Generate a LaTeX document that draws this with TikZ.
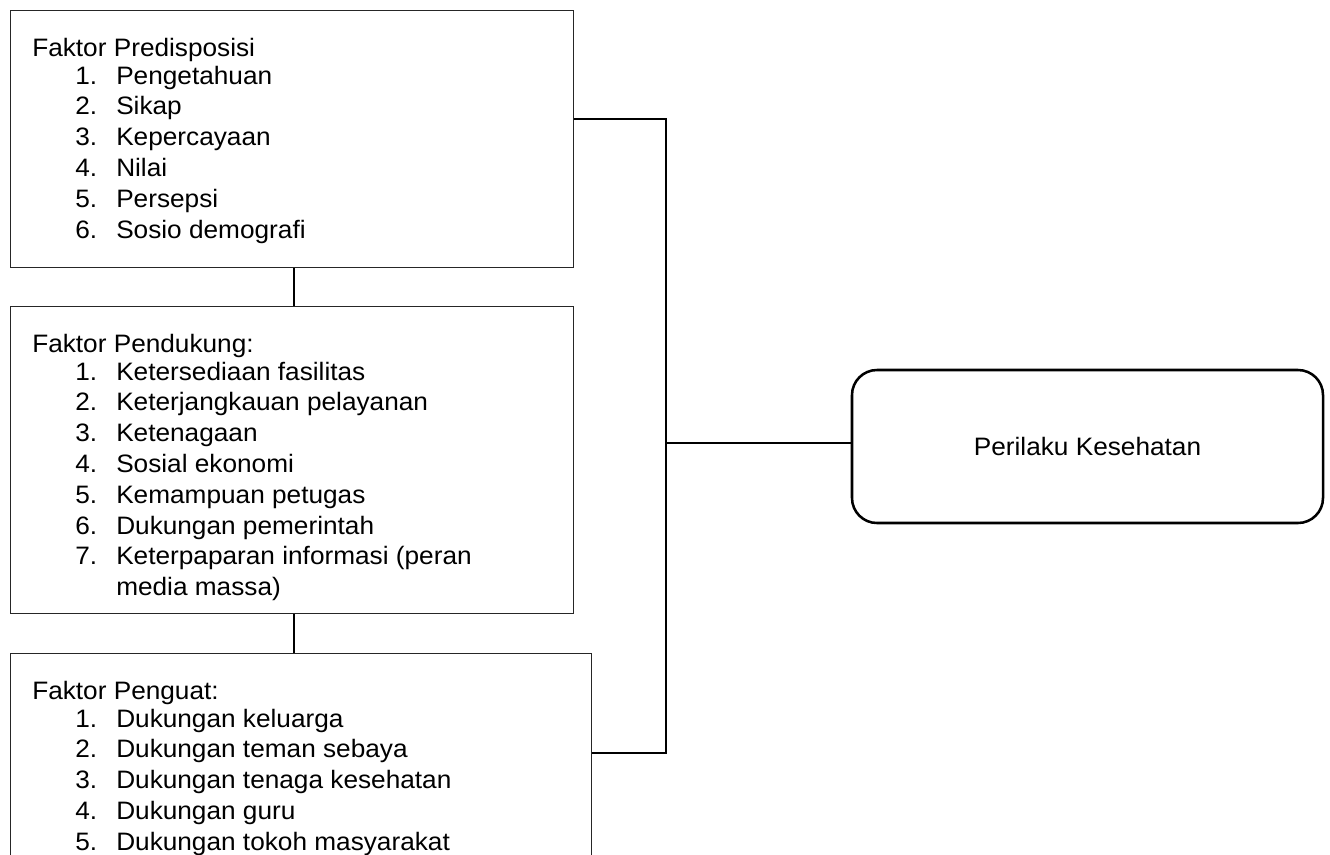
\documentclass[tikz,border=0pt]{standalone}
\usepackage{fontspec}
\setmainfont{Liberation Sans}[FakeStretch=1.04]
\newcommand\itm[2]{\hspace*{32.25pt}\makebox[30.75pt][l]{#1}#2}
\newcommand\itmc[1]{\hspace*{63pt}#1}
\begin{document}
\begin{tikzpicture}[x=0.75pt,y=-0.75pt,
  fbox/.style={draw=black!85, line width=0.9pt, inner sep=0pt, anchor=north west},
  txt/.style={anchor=base west, inner sep=0pt, font=\fontsize{18.9}{23.1}\selectfont},
  conn/.style={line width=2pt, draw=black},
  result/.style={draw=black, line width=1.9pt, rounded corners=18.75pt, inner sep=0pt,
    minimum width=353.25pt, minimum height=114.75pt,
    font=\fontsize{18.9}{23.1}\selectfont}]
\fill[white] (0,0) rectangle (1330,854);
\useasboundingbox (0,0) rectangle (1330,854);
\clip (0,0) rectangle (1330,854);

% boxes
\node[fbox, minimum width=422.25pt, minimum height=192.75pt] (b1) at (10,10) {};
\node[fbox, minimum width=422.25pt, minimum height=230.25pt] (b2) at (10,306) {};
\node[fbox, minimum width=435.75pt, minimum height=187.5pt] (b3) at (10,653) {};
\node[result] (pk) at (1087.5,446.5) {Perilaku Kesehatan};

% texts
\node[txt] (t1) at (32,56) {\begin{tabular}[t]{@{}l@{}}
Faktor Predisposisi\\[-2.1pt]
\itm{1.}{Pengetahuan}\\
\itm{2.}{Sikap}\\
\itm{3.}{Kepercayaan}\\
\itm{4.}{Nilai}\\
\itm{5.}{Persepsi}\\
\itm{6.}{Sosio demografi}
\end{tabular}};

\node[txt] (t2) at (32,352) {\begin{tabular}[t]{@{}l@{}}
Faktor Pendukung:\\[-2.1pt]
\itm{1.}{Ketersediaan fasilitas}\\
\itm{2.}{Keterjangkauan pelayanan}\\
\itm{3.}{Ketenagaan}\\
\itm{4.}{Sosial ekonomi}\\
\itm{5.}{Kemampuan petugas}\\
\itm{6.}{Dukungan pemerintah}\\
\itm{7.}{Keterpaparan informasi (peran}\\
\itmc{media massa)}
\end{tabular}};

\node[txt] (t3) at (32,699) {\begin{tabular}[t]{@{}l@{}}
Faktor Penguat:\\[-2.1pt]
\itm{1.}{Dukungan keluarga}\\
\itm{2.}{Dukungan teman sebaya}\\
\itm{3.}{Dukungan tenaga kesehatan}\\
\itm{4.}{Dukungan guru}\\
\itm{5.}{Dukungan tokoh masyarakat}
\end{tabular}};

% connectors
\coordinate (v1) at (294,0);
\coordinate (jt) at (666,119);
\coordinate (jb) at (666,753);
\coordinate (jm) at (666,443);
\draw[conn] (b1.south -| v1) -- (b2.north -| v1);
\draw[conn] (b2.south -| v1) -- (b3.north -| v1);
\draw[conn] (b1.east |- jt) -- (jt) -- (jb) -- (b3.east |- jb);
\draw[conn] (jm) -- (pk.west |- jm);
\end{tikzpicture}
\end{document}
